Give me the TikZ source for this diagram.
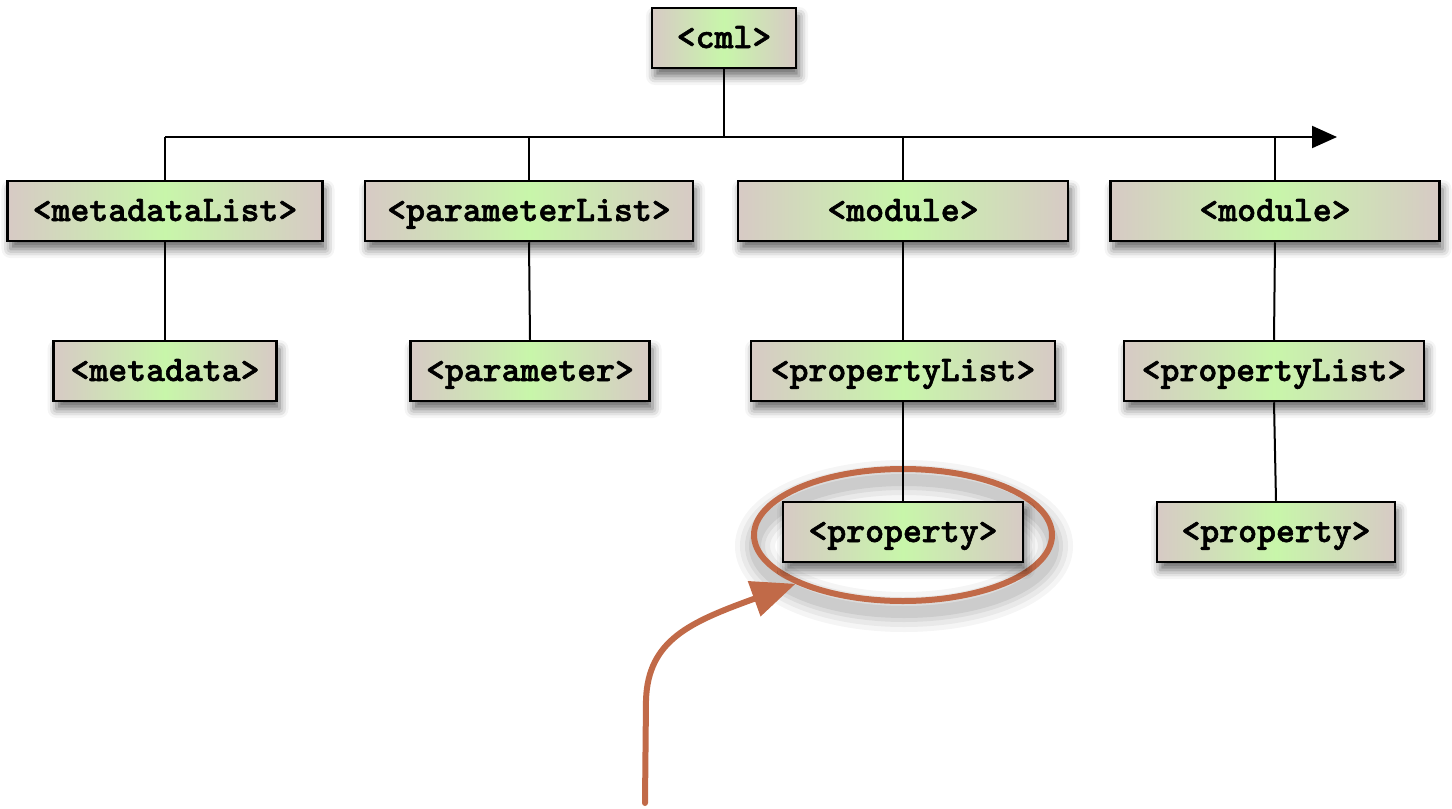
\documentclass[tikz,border=0pt]{standalone}
\usepackage{fontspec}
\newfontfamily\tagfont{lmmonolt10-bold.otf}[FakeBold=1.6]
\usetikzlibrary{shapes.geometric,arrows.meta,shadows.blur}

\definecolor{boxmid}{RGB}{200,246,170}
\definecolor{boxedge}{RGB}{215,202,197}
\definecolor{callout}{RGB}{193,106,72}

\tikzset{
  tag/.style={draw=black, line width=1.25pt,
    font=\tagfont\fontsize{18}{20}\selectfont,
    minimum height=30pt, inner sep=0pt, text height=12pt, text depth=2pt,
    left color=boxedge, right color=boxedge, middle color=boxmid,
    blur shadow={shadow xshift=1.5pt, shadow yshift=-4pt,
      shadow blur radius=4.5pt, shadow opacity=60}},
  link/.style={draw=black, line width=1pt},
  ring/.style={ellipse, draw=callout, line width=3pt, inner sep=0pt,
    minimum width=149pt, minimum height=66pt},
  pointer/.style={draw=callout, line width=3pt, line cap=round,
    -{Triangle[length=22pt,width=18pt]}},
}

\begin{document}
\begin{tikzpicture}[x=0.5pt, y=-0.5pt]
\useasboundingbox (0,0) rectangle (1452,809);

% soft shadow under the highlight ring
\foreach \w/\o in {20/0.04, 15/0.05, 10/0.06, 6/0.07}
  \draw[black, opacity=\o, line width=\w pt]
    (904,546) ellipse [x radius=74.5pt, y radius=33pt];
\node[ring] (hl) at (903,535) {};

% element tree
\node[tag, minimum width=72pt]    (cml)  at (724,38)  {<cml>};

\node[tag, minimum width=157.5pt] (mdl)  at (165,211) {<metadataList>};
\node[tag, minimum width=164pt]   (pml)  at (529,211) {<parameterList>};
\node[tag, minimum width=165pt]   (modA) at (903,211) {<module>};
\node[tag, minimum width=164.5pt] (modB) at (1275,211) {<module>};

\node[tag, minimum width=111.5pt] (md)   at (165,371) {<metadata>};
\node[tag, minimum width=119.5pt] (pm)   at (530,371) {<parameter>};
\node[tag, minimum width=152pt]   (plA)  at (903,371) {<propertyList>};
\node[tag, minimum width=150pt]   (plB)  at (1274,371) {<propertyList>};

\node[tag, minimum width=120pt]   (prA)  at (903,532) {<property>};
\node[tag, minimum width=119pt]   (prB)  at (1276,532) {<property>};

% bus line under the root
\coordinate (busL) at (165,137);
\coordinate (busR) at (1337,137);
\draw[link, -{Triangle[length=12.5pt,width=11pt]}] (busL) -- (busR);
\draw[link] (cml.south) -- (cml.south |- busL);
\foreach \n in {mdl,pml,modA,modB}
  \draw[link] (\n.north |- busL) -- (\n.north);

% child links
\draw[link] (mdl.south)  -- (md.north);
\draw[link] (pml.south)  -- (pm.north);
\draw[link] (modA.south) -- (plA.north);
\draw[link] (modB.south) -- (plB.north);
\draw[link] (plA.south)  -- (prA.north);
\draw[link] (plB.south)  -- (prB.north);

% pointer to the highlighted element
\coordinate (tail) at (645,803);
\draw[pointer] (tail) -- (646,700) .. controls (648,640) and (690,622) .. (hl.south west);
\end{tikzpicture}
\end{document}
